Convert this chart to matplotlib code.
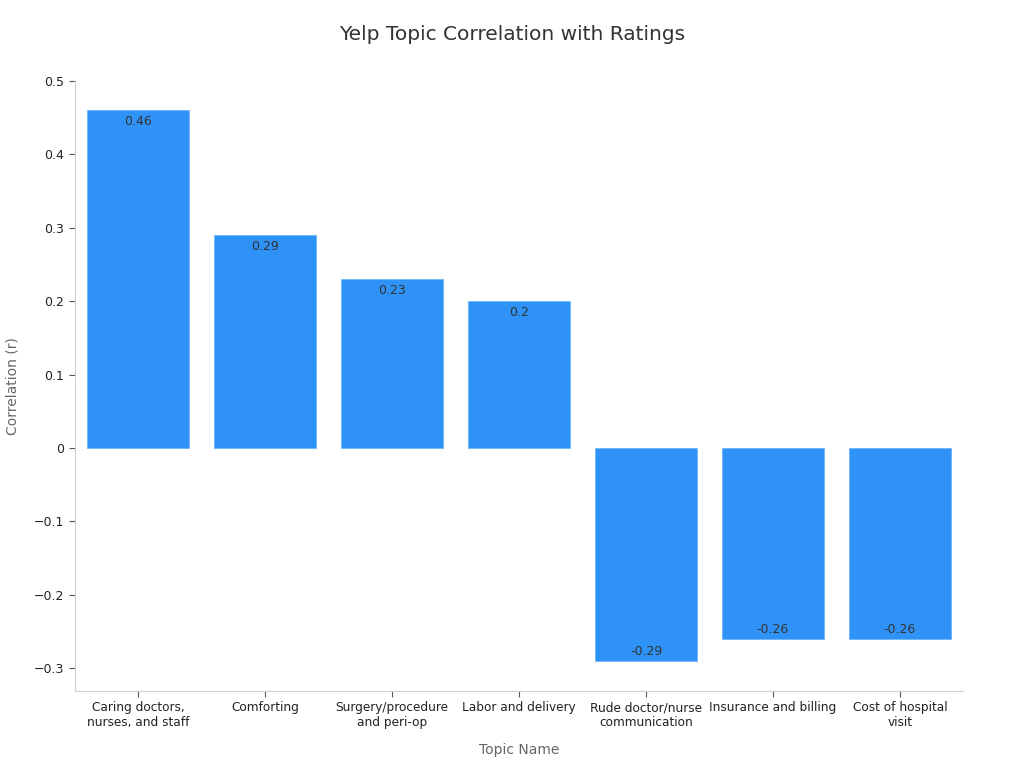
import matplotlib.pyplot as plt
from matplotlib.ticker import FuncFormatter

topics = ["Caring doctors,\nnurses, and staff", "Comforting", "Surgery/procedure\nand peri-op",
          "Labor and delivery", "Rude doctor/nurse\ncommunication", "Insurance and billing",
          "Cost of hospital\nvisit"]
corr = [0.46, 0.29, 0.23, 0.2, -0.29, -0.26, -0.26]

fig = plt.figure(figsize=(10.24, 7.68), dpi=100)
ax = fig.add_axes([0.0728, 0.1003, 0.8681, 0.7942])

x = range(len(topics))
ax.bar(x, corr, width=0.8, color="#2f92f7", edgecolor="#6fb4fa", linewidth=0.6)
for xi, v in zip(x, corr):
    ax.text(xi, v - 0.006 if v > 0 else v + 0.004, f"{v:g}", ha="center",
            va="top" if v > 0 else "bottom", fontsize=9, color="#333333")

ax.set_xlim(-0.5, 6.5)
ax.set_ylim(-0.331, 0.5)
ax.set_xticks(list(x))
ax.set_xticklabels(topics, fontsize=8.7, color="#222222")
ax.set_yticks([-0.3, -0.2, -0.1, 0, 0.1, 0.2, 0.3, 0.4, 0.5])
ax.yaxis.set_major_formatter(FuncFormatter(lambda v, p: f"{v:g}".replace("-", "\u2212") if abs(v) > 1e-9 else "0"))
ax.tick_params(axis="y", labelsize=9, colors="#222222", length=4, color="#555555")
ax.tick_params(axis="x", length=4, color="#555555")

for s in ["top", "right"]:
    ax.spines[s].set_visible(False)
for s in ["left", "bottom"]:
    ax.spines[s].set_color("#d0d0d0")

ax.set_xlabel("Topic Name", fontsize=10, color="#666666", labelpad=10)
ax.set_ylabel("Correlation (r)", fontsize=10, color="#666666", labelpad=10)
fig.suptitle("Yelp Topic Correlation with Ratings", fontsize=14.5, color="#333333", y=0.968)

fig.savefig("out.png", dpi=100)
